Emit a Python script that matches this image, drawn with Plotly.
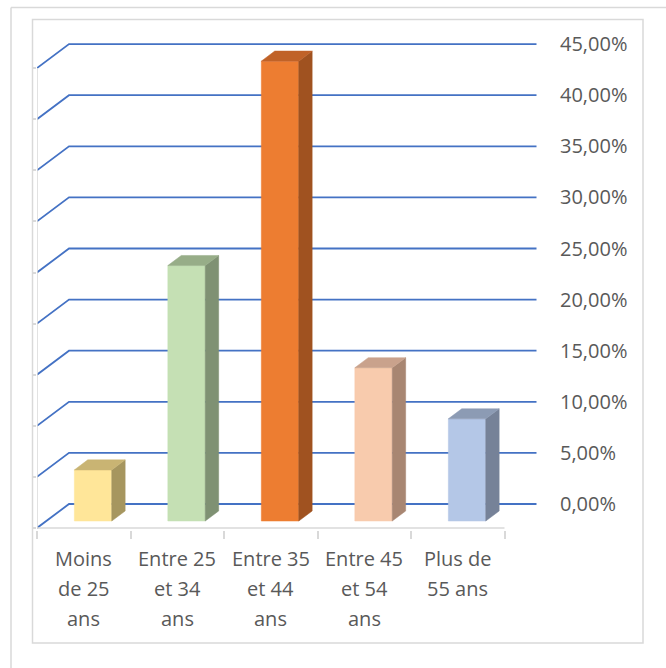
import plotly.graph_objects as go

# ---------------- data ----------------
categories = ["Moins de 25 ans", "Entre 25 et 34 ans", "Entre 35 et 44 ans",
              "Entre 45 et 54 ans", "Plus de 55 ans"]
category_labels = ["Moins<br>de 25<br>ans", "Entre 25<br>et 34<br>ans", "Entre 35<br>et 44<br>ans",
                   "Entre 45<br>et 54<br>ans", "Plus de<br>55 ans"]
values = [0.05, 0.25, 0.45, 0.15, 0.10]
tick_values = [0.00, 0.05, 0.10, 0.15, 0.20, 0.25, 0.30, 0.35, 0.40, 0.45]
tick_labels = ["0,00%", "5,00%", "10,00%", "15,00%", "20,00%", "25,00%",
               "30,00%", "35,00%", "40,00%", "45,00%"]

# ---------------- style ----------------
front_colors = ["#FFE699", "#C5E0B4", "#ED7D31", "#F8CBAD", "#B4C7E7"]
side_colors = ["#A6965F", "#7F9173", "#A05220", "#A88672", "#768298"]
top_colors = ["#C9B473", "#97AD88", "#C06228", "#C9A28C", "#8C9BB4"]
GRID = "#4472C4"
AXIS = "#D9D9D9"
TEXT = "#595959"
FONT = "Open Sans"

W, H = 666, 668
L, R_PX, T, B_PX = 37, 551, 30, 530      # plot area in pixels
ZERO_PX = 528                             # pixel of value 0 on the front plane
PX_PER_CAT = 93.5
PX_PER_UNIT = 1022.0
DX = 32 / PX_PER_CAT                      # depth shift (category units)
DY = 24 / PX_PER_UNIT                     # depth shift (value units)
HALF_W = 0.2
D0, D1 = 0.29, 0.71

x_range = [0, (R_PX - L) / PX_PER_CAT]
y_range = [-(B_PX - ZERO_PX) / PX_PER_UNIT, (ZERO_PX - T) / PX_PER_UNIT]


def proj(x, v, d):
    return x + d * DX, v + d * DY


def poly(pts):
    xs, ys = [], []
    for p in pts:
        px, py = proj(*p)
        xs.append(px)
        ys.append(py)
    xs.append(xs[0])
    ys.append(ys[0])
    return xs, ys


fig = go.Figure()

# gridlines: left wall diagonal + back wall horizontal
gx, gy = [], []
n_cat = len(categories)
for tv in tick_values:
    a = proj(0, tv, 0)
    b = proj(0, tv, 1)
    c = proj(n_cat, tv, 1)
    gx += [a[0], b[0], c[0], None]
    gy += [a[1], b[1], c[1], None]
fig.add_trace(go.Scatter(x=gx, y=gy, mode="lines", line=dict(color=GRID, width=1.8),
                         hoverinfo="skip", showlegend=False))

# left vertical axis line (front plane) and floor line
fig.add_trace(go.Scatter(x=[0, 0], y=[0, max(tick_values)], mode="lines",
                         line=dict(color=AXIS, width=1.5), hoverinfo="skip", showlegend=False))
fig.add_trace(go.Scatter(x=[0, n_cat], y=[0, 0], mode="lines",
                         line=dict(color=AXIS, width=1.5), hoverinfo="skip", showlegend=False))

# 3D bars
for i, v in enumerate(values):
    c = i + 0.5
    x0, x1 = c - HALF_W, c + HALF_W
    faces = [
        ([(x0, 0, D0), (x1, 0, D0), (x1, v, D0), (x0, v, D0)], front_colors[i]),
        ([(x1, 0, D0), (x1, 0, D1), (x1, v, D1), (x1, v, D0)], side_colors[i]),
        ([(x0, v, D0), (x1, v, D0), (x1, v, D1), (x0, v, D1)], top_colors[i]),
    ]
    for pts, col in faces:
        xs, ys = poly(pts)
        fig.add_trace(go.Scatter(x=xs, y=ys, mode="lines", fill="toself", fillcolor=col,
                                 line=dict(color=col, width=0.5), hoverinfo="skip",
                                 showlegend=False))

# invisible trace for right axis
fig.add_trace(go.Scatter(x=[x_range[1]] * len(tick_values), y=tick_values, yaxis="y2",
                         mode="markers", marker=dict(opacity=0), hoverinfo="skip",
                         showlegend=False))

# category labels
annotations = []
for i, lab in enumerate(category_labels):
    for j, line in enumerate(lab.split("<br>")):
        annotations.append(dict(x=i + 0.5, y=0, xref="x", yref="y", text=line,
                                showarrow=False, xanchor="center", yanchor="middle",
                                yshift=-(30 + 30 * j),
                                font=dict(family=FONT, size=20, color=TEXT)))


def pxx(p):
    return (p - L) / (R_PX - L)


def pxy(p):
    return (B_PX - p) / (B_PX - T)


shapes = [
    dict(type="rect", xref="paper", yref="paper", x0=pxx(32.5), x1=pxx(643), y0=pxy(643), y1=pxy(19.5),
         line=dict(color=AXIS, width=1.5), layer="below"),
    dict(type="line", xref="paper", yref="paper", x0=pxx(11), x1=pxx(666), y0=pxy(7.5), y1=pxy(7.5),
         line=dict(color=AXIS, width=1.5)),
    dict(type="line", xref="paper", yref="paper", x0=pxx(11), x1=pxx(11), y0=pxy(668), y1=pxy(7.5),
         line=dict(color=AXIS, width=1.5)),
]

fig.update_layout(
    width=W, height=H,
    margin=dict(l=L, r=W - R_PX, t=T, b=H - B_PX),
    paper_bgcolor="white", plot_bgcolor="white",
    showlegend=False,
    xaxis=dict(range=x_range, showgrid=False, zeroline=False, showline=False,
               showticklabels=False, ticks="outside", tickvals=list(range(n_cat + 1)),
               ticklen=8, tickcolor=AXIS, tickwidth=1.5, fixedrange=True),
    yaxis=dict(range=y_range, showgrid=False, zeroline=False, showline=False,
               showticklabels=False, ticks="outside", tickvals=tick_values,
               ticklen=3, tickcolor=AXIS, tickwidth=1.5, fixedrange=True),
    yaxis2=dict(range=[y_range[0] - DY, y_range[1] - DY], overlaying="y", side="right",
                showgrid=False, zeroline=False, showline=False,
                tickvals=tick_values, ticktext=tick_labels, ticks="outside", ticklen=4,
                tickcolor="rgba(0,0,0,0)",
                tickfont=dict(family=FONT, size=20, color=TEXT), fixedrange=True),
    annotations=annotations,
    shapes=shapes,
)

fig.write_html("out.html")
